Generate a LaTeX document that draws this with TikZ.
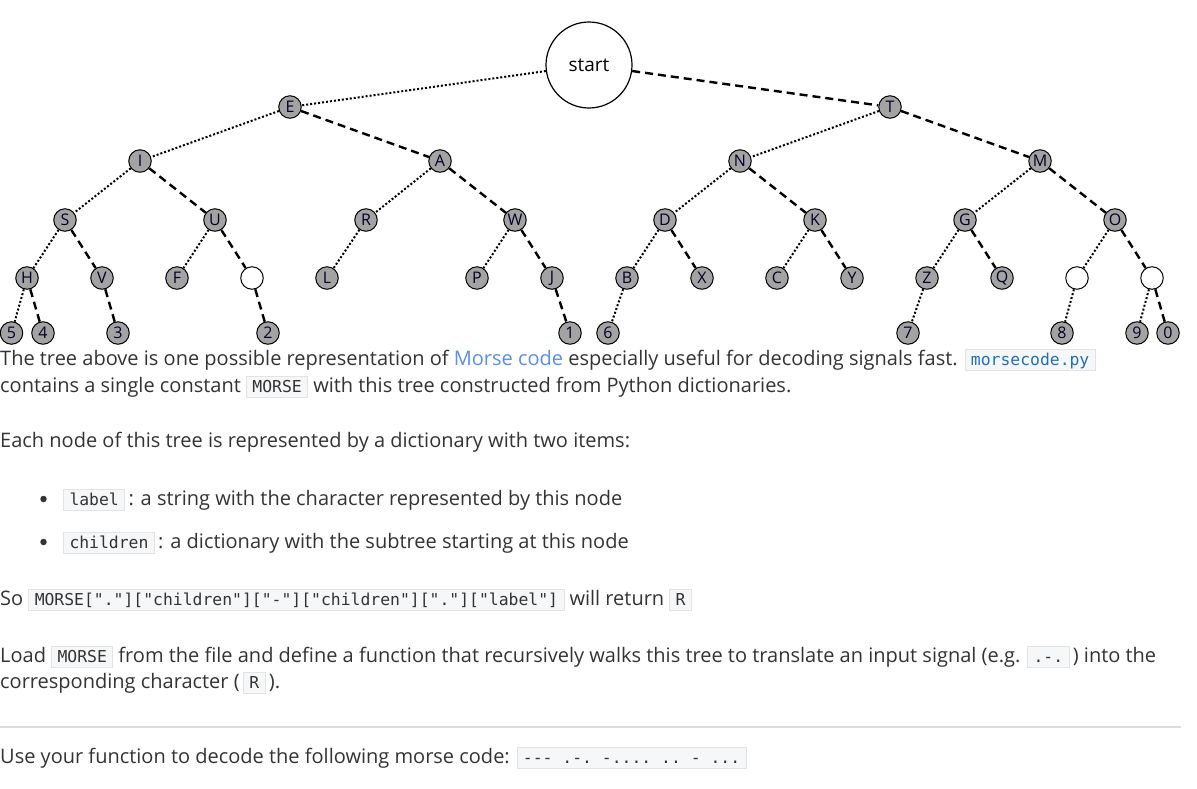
\documentclass[tikz,border=0pt]{standalone}
\usepackage{fontspec}
\setmainfont{Open Sans}
\setmonofont{DejaVu Sans Mono}
\definecolor{nodegray}{HTML}{A3A3A3}
\definecolor{textc}{HTML}{333333}
\definecolor{linkc}{HTML}{5A8DEE}
\definecolor{codeblue}{HTML}{1E6FC0}
\definecolor{codebg}{HTML}{F6F7F8}
\definecolor{codeborder}{HTML}{E3E3E3}
\definecolor{hrc}{HTML}{DDDDDD}
\newcommand\myicode[1]{{\setlength\fboxsep{0pt}\setlength\fboxrule{0.8pt}\fcolorbox{codeborder}{codebg}{\hspace{5.5pt}\rule[-5.2pt]{0pt}{20.4pt}\ttfamily\fontsize{16.4}{18}\selectfont #1\hspace{5.5pt}}}}
\begin{document}
\begin{tikzpicture}[x=1pt,y=-1pt,
  lt/.style={circle, draw=black, fill=nodegray, minimum size=22.5pt, inner sep=0pt, line width=1pt, font=\fontsize{16}{16}\selectfont, text=black!85!blue},
  emp/.style={circle, draw=black, fill=white, minimum size=22.5pt, inner sep=0pt, line width=1pt},
  dotE/.style={line width=2pt, dash pattern=on 2pt off 2pt},
  dashE/.style={line width=2.4pt, dash pattern=on 8pt off 5pt},
  txt/.style={anchor=base west, inner sep=0pt, text=textc, font=\fontsize{20}{27}\selectfont}
]
\useasboundingbox (0,0) rectangle (1197,788);
% root
\node[circle, draw=black, fill=white, line width=1.2pt, minimum size=86pt, inner sep=0pt, font=\fontsize{19}{19}\selectfont] (start) at (589,65) {start};
% level 1
\node[lt] (nE) at (290,107) {E};
\node[lt] (nT) at (890,107) {T};
% level 2
\node[lt] (nI) at (140,161) {I};
\node[lt] (nA) at (440,161) {A};
\node[lt] (nN) at (740,161) {N};
\node[lt] (nM) at (1040,161) {M};
% level 3
\node[lt] (nS) at (65,220) {S};
\node[lt] (nU) at (215,220) {U};
\node[lt] (nR) at (366,220) {R};
\node[lt] (nW) at (515,220) {W};
\node[lt] (nD) at (665,220) {D};
\node[lt] (nK) at (815,220) {K};
\node[lt] (nG) at (965,220) {G};
\node[lt] (nO) at (1115,220) {O};
% level 4
\node[lt] (nH) at (27,278) {H};
\node[lt] (nV) at (102,278) {V};
\node[lt] (nF) at (177,278) {F};
\node[emp] (e1) at (252,278) {};
\node[lt] (nL) at (327,278) {L};
\node[lt] (nP) at (477,278) {P};
\node[lt] (nJ) at (552,278) {J};
\node[lt] (nB) at (627,278) {B};
\node[lt] (nX) at (702,278) {X};
\node[lt] (nC) at (777,278) {C};
\node[lt] (nY) at (852,278) {Y};
\node[lt] (nZ) at (927,278) {Z};
\node[lt] (nQ) at (1002,278) {Q};
\node[emp] (e2) at (1077,278) {};
\node[emp] (e3) at (1152,278) {};
% level 5
\node[lt] (d5) at (11.5,333) {5};
\node[lt] (d4) at (43,333) {4};
\node[lt] (d3) at (118,333) {3};
\node[lt] (d2) at (268,333) {2};
\node[lt] (d1) at (570,333) {1};
\node[lt] (d6) at (608,333) {6};
\node[lt] (d7) at (908,333) {7};
\node[lt] (d8) at (1062,333) {8};
\node[lt] (d9) at (1137,333) {9};
\node[lt] (d0) at (1168,333) {0};
% edges
\draw[dotE] (start) -- (nE);
\draw[dashE] (start) -- (nT);
\draw[dotE] (nE) -- (nI);
\draw[dashE] (nE) -- (nA);
\draw[dotE] (nT) -- (nN);
\draw[dashE] (nT) -- (nM);
\draw[dotE] (nI) -- (nS);
\draw[dashE] (nI) -- (nU);
\draw[dotE] (nA) -- (nR);
\draw[dashE] (nA) -- (nW);
\draw[dotE] (nN) -- (nD);
\draw[dashE] (nN) -- (nK);
\draw[dotE] (nM) -- (nG);
\draw[dashE] (nM) -- (nO);
\draw[dotE] (nS) -- (nH);
\draw[dashE] (nS) -- (nV);
\draw[dotE] (nU) -- (nF);
\draw[dashE] (nU) -- (e1);
\draw[dotE] (nR) -- (nL);
\draw[dotE] (nW) -- (nP);
\draw[dashE] (nW) -- (nJ);
\draw[dotE] (nD) -- (nB);
\draw[dashE] (nD) -- (nX);
\draw[dotE] (nK) -- (nC);
\draw[dashE] (nK) -- (nY);
\draw[dotE] (nG) -- (nZ);
\draw[dashE] (nG) -- (nQ);
\draw[dotE] (nO) -- (e2);
\draw[dashE] (nO) -- (e3);
\draw[dotE] (nH) -- (d5);
\draw[dashE] (nH) -- (d4);
\draw[dashE] (nV) -- (d3);
\draw[dashE] (e1) -- (d2);
\draw[dashE] (nJ) -- (d1);
\draw[dotE] (nB) -- (d6);
\draw[dotE] (nZ) -- (d7);
\draw[dotE] (e2) -- (d8);
\draw[dotE] (e3) -- (d9);
\draw[dashE] (e3) -- (d0);
% text
\node[txt] (p1) at (0,365) {The tree above is one possible representation of \textcolor{linkc}{Morse code} especially useful for decoding signals fast. \myicode{\color{codeblue}morsecode.py}};
\node[txt] (p2) at (0,392) {contains a single constant \myicode{MORSE} with this tree constructed from Python dictionaries.};
\node[txt] (p3) at (0,447) {Each node of this tree is represented by a dictionary with two items:};
\node[circle, fill=textc, minimum size=6.5pt, inner sep=0pt] (b1) at (43.5,499) {};
\node[txt] (i1) at (63,505) {\myicode{label}\,: a string with the character represented by this node};
\node[circle, fill=textc, minimum size=6.5pt, inner sep=0pt] (b2) at (43.5,542) {};
\node[txt] (i2) at (63,548) {\myicode{children}\,: a dictionary with the subtree starting at this node};
\node[txt] (p4) at (0,605) {So \myicode{MORSE["."]["children"]["-"]["children"]["."]["label"]} will return \myicode{R}};
\node[txt] (p5) at (0,662) {Load \myicode{MORSE} from the file and define a function that recursively walks this tree to translate an input signal (e.g. \myicode{.-.}\,) into the};
\node[txt] (p6) at (0,688) {corresponding character (\,\myicode{R}\,).};
\coordinate (hrL) at (0,727);
\coordinate (hrR) at (1181,727);
\draw[hrc, line width=2pt] (hrL) -- (hrR);
\node[txt] (p7) at (0,763) {Use your function to decode the following morse code: \myicode{-{}-{}- .-. -.... .. - ...}};
\end{tikzpicture}
\end{document}
